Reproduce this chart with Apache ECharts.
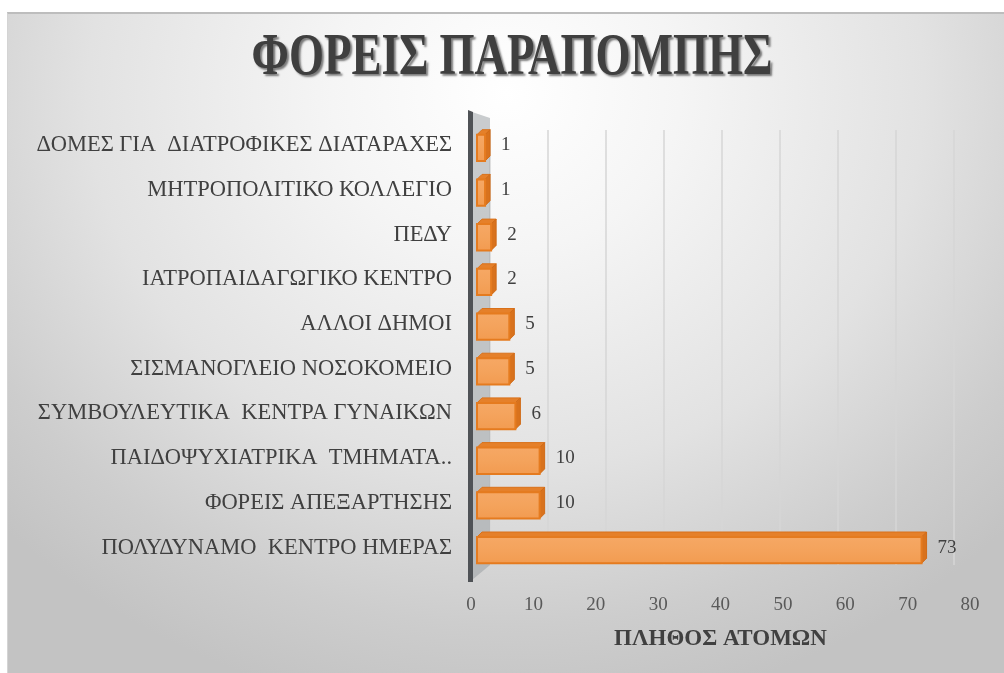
<!DOCTYPE html>
<html>
<head>
<meta charset="utf-8">
<script src="https://cdn.jsdelivr.net/npm/echarts@6/dist/echarts.min.js"></script>
<style>
html,body{margin:0;padding:0;background:#ffffff;width:1004px;height:673px;overflow:hidden;}
#frame{position:absolute;left:7px;top:12px;width:997px;height:661px;box-sizing:border-box;border-top:2px solid #bdbdbd;border-left:1px solid #d4d4d4;
background:radial-gradient(ellipse 70% 95% at 50% 12%, #ffffff 0%, #f5f5f5 25%, #e2e2e2 60%, #cdcdcd 85%, #c3c3c3 100%);}
#chart{position:absolute;left:0;top:0;width:1004px;height:673px;}
</style>
</head>
<body>
<div id="frame"></div>
<div id="chart"></div>
<script>
const titleText = 'ΦΟΡΕΙΣ ΠΑΡΑΠΟΜΠΗΣ';
const axisTitle = 'ΠΛΗΘΟΣ ΑΤΟΜΩΝ';
const categories = [
  'ΠΟΛΥΔΥΝΑΜΟ  ΚΕΝΤΡΟ ΗΜΕΡΑΣ',
  'ΦΟΡΕΙΣ ΑΠΕΞΑΡΤΗΣΗΣ',
  'ΠΑΙΔΟΨΥΧΙΑΤΡΙΚΑ  ΤΜΗΜΑΤΑ..',
  'ΣΥΜΒΟΥΛΕΥΤΙΚΑ  ΚΕΝΤΡΑ ΓΥΝΑΙΚΩΝ',
  'ΣΙΣΜΑΝΟΓΛΕΙΟ ΝΟΣΟΚΟΜΕΙΟ',
  'ΑΛΛΟΙ ΔΗΜΟΙ',
  'ΙΑΤΡΟΠΑΙΔΑΓΩΓΙΚΟ ΚΕΝΤΡΟ',
  'ΠΕΔΥ',
  'ΜΗΤΡΟΠΟΛΙΤΙΚΟ ΚΟΛΛΕΓΙΟ',
  'ΔΟΜΕΣ ΓΙΑ  ΔΙΑΤΡΟΦΙΚΕΣ ΔΙΑΤΑΡΑΧΕΣ'
];
const values = [73, 10, 10, 6, 5, 5, 2, 2, 1, 1];
const xMin = 0, xMax = 80, xStep = 10;

const serif = '"Liberation Serif", "DejaVu Serif", serif';
const chart = echarts.init(document.getElementById('chart'), null, {renderer:'canvas'});

function renderBar(params, api) {
  const v = api.value(0), c = api.value(1);
  const p0 = api.coord([0, c]);
  const p1 = api.coord([v, c]);
  const band = api.size([0, 1])[1];
  const h = band * 0.7;
  const d = 5;
  const x0 = p0[0] - 7;
  const x1 = Math.max(p1[0] - d, x0 + 2);
  const yT = p0[1] - h / 2 + d;
  const yB = p0[1] + h / 2;
  return {
    type: 'group',
    children: [
      { type: 'polygon', shape: { points: [[x0, yT], [x0 + d, yT - d], [x1 + d, yT - d], [x1, yT]] },
        style: { fill: '#e5802a', stroke: '#d9711a', lineWidth: 1 } },
      { type: 'polygon', shape: { points: [[x1, yT], [x1 + d, yT - d], [x1 + d, yB - d], [x1, yB]] },
        style: { fill: '#d8721d', stroke: '#d06a16', lineWidth: 1 } },
      { type: 'rect', shape: { x: x0, y: yT, width: x1 - x0, height: yB - yT },
        style: { fill: {type:'linear',x:0,y:0,x2:0,y2:1,colorStops:[{offset:0,color:'#f6a865'},{offset:0.5,color:'#f4a35c'},{offset:1,color:'#f29b50'}]},
                 stroke: '#e57b1f', lineWidth: 2 } },
      { type: 'text', x: p1[0] + 11, y: p0[1],
        style: { text: String(v), fill: '#404040', font: '19px ' + serif, textAlign: 'left', textVerticalAlign: 'middle' } }
    ]
  };
}

chart.setOption({
  backgroundColor: 'transparent',
  animation: false,
  grid: [
    { left: 484, right: 35, top: 123, bottom: 103, containLabel: false },
    { left: 490, right: 50, top: 130, bottom: 108, containLabel: false },
    { left: 471, right: 34, top: 123, bottom: 103, containLabel: false }
  ],
  xAxis: [
    { type: 'value', gridIndex: 0, min: xMin, max: xMax, interval: xStep, show: false },
    { type: 'value', gridIndex: 1, min: xMin, max: xMax, interval: xStep,
      axisLine: { show: false }, axisTick: { show: false }, axisLabel: { show: false },
      splitLine: { show: true, lineStyle: { color: '#d6d6d6', width: 1.5 } } },
    { type: 'value', gridIndex: 2, min: xMin, max: xMax, interval: xStep,
      axisLine: { show: false }, axisTick: { show: false }, splitLine: { show: false },
      axisLabel: { color: '#595959', fontFamily: serif, fontSize: 19, margin: 26 },
      name: axisTitle, nameLocation: 'middle', nameGap: 58,
      nameTextStyle: { color: '#404040', fontFamily: serif, fontSize: 23, fontWeight: 'bold' } }
  ],
  yAxis: [
    { type: 'category', gridIndex: 0, data: categories, show: false },
    { type: 'category', gridIndex: 1, data: categories, show: false },
    { type: 'category', gridIndex: 2, data: categories,
      axisLine: { show: false }, axisTick: { show: false }, splitLine: { show: false },
      axisLabel: { color: '#404040', fontFamily: serif, fontSize: 22.5, margin: 19 } }
  ],
  graphic: [
    { type: 'polygon', z: 1, shape: { points: [[472, 112], [490, 118], [490, 565], [472, 580]] },
      style: { fill: 'rgba(150,155,160,0.5)' } },
    { type: 'polygon', z: 2, shape: { points: [[468, 110], [473, 112], [473, 582], [468, 582]] },
      style: { fill: '#4f5256' } },
    { type: 'text', z: 10, x: 512, y: 58, scaleX: 0.75,
      style: { text: titleText, fill: '#3f3f3f', font: 'bold 60px ' + serif, textAlign: 'center', textVerticalAlign: 'middle',
               textShadowColor: 'rgba(0,0,0,0.5)', textShadowBlur: 2, textShadowOffsetX: 2, textShadowOffsetY: 2 } }
  ],
  series: [
    { type: 'custom', xAxisIndex: 0, yAxisIndex: 0, z: 5,
      data: values.map((v, i) => [v, i]),
      encode: { x: 0, y: 1 },
      renderItem: renderBar }
  ]
});
</script>
</body>
</html>
